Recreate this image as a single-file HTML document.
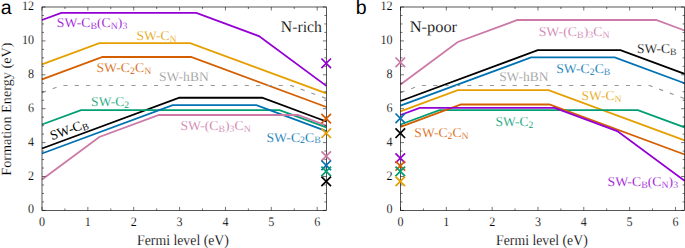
<!DOCTYPE html><html><head><meta charset="utf-8"><style>html,body{margin:0;padding:0;background:#fff;}svg{display:block;}text{font-family:"Liberation Serif",serif;text-rendering:geometricPrecision;stroke:#fff;stroke-width:0.15px;}.tk{font-size:13px;fill:#000;}.lb{font-size:13.5px;}.sb{font-size:9.7px;}.pl{font-family:"Liberation Sans",sans-serif;font-size:19.5px;fill:#000;stroke:none;}</style></head><body>
<svg id="s" width="685" height="248" viewBox="0 0 685 248">
<g id="pa">
<polyline points="42.00,148.52 179.36,97.75 262.14,97.75 326.35,121.48" fill="none" stroke="#000000" stroke-width="1.80" stroke-linejoin="miter"/>
<polyline points="42.00,64.29 99.33,43.10 190.14,43.10 326.35,93.44" fill="none" stroke="#e69f00" stroke-width="1.80" stroke-linejoin="miter"/>
<polyline points="42.00,124.51 80.98,110.10 279.57,110.10 326.35,127.39" fill="none" stroke="#009e73" stroke-width="1.80" stroke-linejoin="miter"/>
<polyline points="42.00,153.51 172.71,105.20 256.41,105.20 326.35,131.05" fill="none" stroke="#0072b2" stroke-width="1.80" stroke-linejoin="miter"/>
<polyline points="42.00,79.37 102.54,57.00 191.05,57.00 326.35,107.00" fill="none" stroke="#d55e00" stroke-width="1.80" stroke-linejoin="miter"/>
<polyline points="42.00,20.02 61.26,12.90 196.33,12.90 258.93,36.04 326.35,85.87" fill="none" stroke="#9400d3" stroke-width="1.80" stroke-linejoin="miter"/>
<polyline points="42.00,179.41 99.33,137.03 158.95,115.00 297.92,115.00 326.35,125.51" fill="none" stroke="#cc79a7" stroke-width="1.80" stroke-linejoin="miter"/>
<polyline points="42.00,92.62 61.26,85.50 291.04,85.50 326.35,98.55" fill="none" stroke="#999999" stroke-width="1.20" stroke-linejoin="miter" stroke-dasharray="4.2 7.13"/>
<path d="M42.00 210.40V206.90M42.00 7.00V10.50M64.93 210.40V208.40M64.93 7.00V9.00M87.86 210.40V206.90M87.86 7.00V10.50M110.79 210.40V208.40M110.79 7.00V9.00M133.73 210.40V206.90M133.73 7.00V10.50M156.66 210.40V208.40M156.66 7.00V9.00M179.59 210.40V206.90M179.59 7.00V10.50M202.52 210.40V208.40M202.52 7.00V9.00M225.45 210.40V206.90M225.45 7.00V10.50M248.38 210.40V208.40M248.38 7.00V9.00M271.31 210.40V206.90M271.31 7.00V10.50M294.25 210.40V208.40M294.25 7.00V9.00M317.18 210.40V206.90M317.18 7.00V10.50M42.00 210.40H45.50M326.35 210.40H322.85M42.00 201.93H44.00M326.35 201.93H324.35M42.00 193.45H44.00M326.35 193.45H324.35M42.00 184.97H44.00M326.35 184.97H324.35M42.00 176.50H45.50M326.35 176.50H322.85M42.00 168.03H44.00M326.35 168.03H324.35M42.00 159.55H44.00M326.35 159.55H324.35M42.00 151.08H44.00M326.35 151.08H324.35M42.00 142.60H45.50M326.35 142.60H322.85M42.00 134.12H44.00M326.35 134.12H324.35M42.00 125.65H44.00M326.35 125.65H324.35M42.00 117.17H44.00M326.35 117.17H324.35M42.00 108.70H45.50M326.35 108.70H322.85M42.00 100.22H44.00M326.35 100.22H324.35M42.00 91.75H44.00M326.35 91.75H324.35M42.00 83.28H44.00M326.35 83.28H324.35M42.00 74.80H45.50M326.35 74.80H322.85M42.00 66.32H44.00M326.35 66.32H324.35M42.00 57.85H44.00M326.35 57.85H324.35M42.00 49.38H44.00M326.35 49.38H324.35M42.00 40.90H45.50M326.35 40.90H322.85M42.00 32.42H44.00M326.35 32.42H324.35M42.00 23.95H44.00M326.35 23.95H324.35M42.00 15.48H44.00M326.35 15.48H324.35M42.00 7.00H45.50M326.35 7.00H322.85" stroke="#000" stroke-width="0.55" fill="none"/>
<rect x="42.00" y="7.00" width="284.35" height="203.40" fill="none" stroke="#000" stroke-width="0.66"/>
<text transform="translate(42.00 226.00) scale(0.930 1)" text-anchor="middle" class="tk">0</text>
<text transform="translate(87.86 226.00) scale(0.930 1)" text-anchor="middle" class="tk">1</text>
<text transform="translate(133.73 226.00) scale(0.930 1)" text-anchor="middle" class="tk">2</text>
<text transform="translate(179.59 226.00) scale(0.930 1)" text-anchor="middle" class="tk">3</text>
<text transform="translate(225.45 226.00) scale(0.930 1)" text-anchor="middle" class="tk">4</text>
<text transform="translate(271.31 226.00) scale(0.930 1)" text-anchor="middle" class="tk">5</text>
<text transform="translate(317.18 226.00) scale(0.930 1)" text-anchor="middle" class="tk">6</text>
<text transform="translate(34.00 213.40) scale(0.930 1)" text-anchor="end" class="tk">0</text>
<text transform="translate(34.00 179.50) scale(0.930 1)" text-anchor="end" class="tk">2</text>
<text transform="translate(34.00 145.60) scale(0.930 1)" text-anchor="end" class="tk">4</text>
<text transform="translate(34.00 111.70) scale(0.930 1)" text-anchor="end" class="tk">6</text>
<text transform="translate(34.00 77.80) scale(0.930 1)" text-anchor="end" class="tk">8</text>
<text transform="translate(34.00 43.90) scale(0.930 1)" text-anchor="end" class="tk">10</text>
<text transform="translate(34.00 10.00) scale(0.930 1)" text-anchor="end" class="tk">12</text>
<path d="M321.40 58.50L331.00 68.10M321.40 68.10L331.00 58.50" stroke="#9400d3" stroke-width="1.70" fill="none"/>
<path d="M321.40 113.80L331.00 123.40M321.40 123.40L331.00 113.80" stroke="#d55e00" stroke-width="1.70" fill="none"/>
<path d="M321.40 128.40L331.00 138.00M321.40 138.00L331.00 128.40" stroke="#e69f00" stroke-width="1.70" fill="none"/>
<path d="M321.40 151.30L331.00 160.90M321.40 160.90L331.00 151.30" stroke="#cc79a7" stroke-width="1.70" fill="none"/>
<path d="M321.40 160.50L331.00 170.10M321.40 170.10L331.00 160.50" stroke="#0072b2" stroke-width="1.70" fill="none"/>
<path d="M321.40 166.60L331.00 176.20M321.40 176.20L331.00 166.60" stroke="#009e73" stroke-width="1.70" fill="none"/>
<path d="M321.40 176.60L331.00 186.20M321.40 186.20L331.00 176.60" stroke="#000000" stroke-width="1.70" fill="none"/>
</g>
<g id="pb">
<polyline points="400.50,100.97 537.74,50.20 620.45,50.20 684.60,73.93" fill="none" stroke="#000000" stroke-width="1.80" stroke-linejoin="miter"/>
<polyline points="400.50,111.29 457.78,90.10 548.51,90.10 684.60,140.44" fill="none" stroke="#e69f00" stroke-width="1.80" stroke-linejoin="miter"/>
<polyline points="400.50,124.51 439.45,110.10 637.86,110.10 684.60,127.39" fill="none" stroke="#009e73" stroke-width="1.80" stroke-linejoin="miter"/>
<polyline points="400.50,105.71 531.09,57.40 614.72,57.40 684.60,83.25" fill="none" stroke="#0072b2" stroke-width="1.80" stroke-linejoin="miter"/>
<polyline points="400.50,126.87 460.99,104.50 549.42,104.50 684.60,154.50" fill="none" stroke="#d55e00" stroke-width="1.80" stroke-linejoin="miter"/>
<polyline points="400.50,115.02 419.75,107.90 554.69,107.90 617.24,131.04 684.60,180.87" fill="none" stroke="#9400d3" stroke-width="1.80" stroke-linejoin="miter"/>
<polyline points="400.50,84.41 457.78,42.03 517.35,20.00 656.19,20.00 684.60,30.51" fill="none" stroke="#cc79a7" stroke-width="1.80" stroke-linejoin="miter"/>
<polyline points="400.50,92.62 419.75,85.50 649.32,85.50 684.60,98.55" fill="none" stroke="#999999" stroke-width="1.20" stroke-linejoin="miter" stroke-dasharray="4.2 7.13"/>
<path d="M400.50 210.40V206.90M400.50 7.00V10.50M423.41 210.40V208.40M423.41 7.00V9.00M446.32 210.40V206.90M446.32 7.00V10.50M469.23 210.40V208.40M469.23 7.00V9.00M492.15 210.40V206.90M492.15 7.00V10.50M515.06 210.40V208.40M515.06 7.00V9.00M537.97 210.40V206.90M537.97 7.00V10.50M560.88 210.40V208.40M560.88 7.00V9.00M583.79 210.40V206.90M583.79 7.00V10.50M606.70 210.40V208.40M606.70 7.00V9.00M629.61 210.40V206.90M629.61 7.00V10.50M652.52 210.40V208.40M652.52 7.00V9.00M675.44 210.40V206.90M675.44 7.00V10.50M400.50 210.40H404.00M684.60 210.40H681.10M400.50 201.93H402.50M684.60 201.93H682.60M400.50 193.45H402.50M684.60 193.45H682.60M400.50 184.97H402.50M684.60 184.97H682.60M400.50 176.50H404.00M684.60 176.50H681.10M400.50 168.03H402.50M684.60 168.03H682.60M400.50 159.55H402.50M684.60 159.55H682.60M400.50 151.08H402.50M684.60 151.08H682.60M400.50 142.60H404.00M684.60 142.60H681.10M400.50 134.12H402.50M684.60 134.12H682.60M400.50 125.65H402.50M684.60 125.65H682.60M400.50 117.17H402.50M684.60 117.17H682.60M400.50 108.70H404.00M684.60 108.70H681.10M400.50 100.22H402.50M684.60 100.22H682.60M400.50 91.75H402.50M684.60 91.75H682.60M400.50 83.28H402.50M684.60 83.28H682.60M400.50 74.80H404.00M684.60 74.80H681.10M400.50 66.32H402.50M684.60 66.32H682.60M400.50 57.85H402.50M684.60 57.85H682.60M400.50 49.38H402.50M684.60 49.38H682.60M400.50 40.90H404.00M684.60 40.90H681.10M400.50 32.42H402.50M684.60 32.42H682.60M400.50 23.95H402.50M684.60 23.95H682.60M400.50 15.48H402.50M684.60 15.48H682.60M400.50 7.00H404.00M684.60 7.00H681.10" stroke="#000" stroke-width="0.55" fill="none"/>
<rect x="400.50" y="7.00" width="284.10" height="203.40" fill="none" stroke="#000" stroke-width="0.66"/>
<text transform="translate(400.50 226.00) scale(0.930 1)" text-anchor="middle" class="tk">0</text>
<text transform="translate(446.32 226.00) scale(0.930 1)" text-anchor="middle" class="tk">1</text>
<text transform="translate(492.15 226.00) scale(0.930 1)" text-anchor="middle" class="tk">2</text>
<text transform="translate(537.97 226.00) scale(0.930 1)" text-anchor="middle" class="tk">3</text>
<text transform="translate(583.79 226.00) scale(0.930 1)" text-anchor="middle" class="tk">4</text>
<text transform="translate(629.61 226.00) scale(0.930 1)" text-anchor="middle" class="tk">5</text>
<text transform="translate(675.44 226.00) scale(0.930 1)" text-anchor="middle" class="tk">6</text>
<text transform="translate(392.50 213.40) scale(0.930 1)" text-anchor="end" class="tk">0</text>
<text transform="translate(392.50 179.50) scale(0.930 1)" text-anchor="end" class="tk">2</text>
<text transform="translate(392.50 145.60) scale(0.930 1)" text-anchor="end" class="tk">4</text>
<text transform="translate(392.50 111.70) scale(0.930 1)" text-anchor="end" class="tk">6</text>
<text transform="translate(392.50 77.80) scale(0.930 1)" text-anchor="end" class="tk">8</text>
<text transform="translate(392.50 43.90) scale(0.930 1)" text-anchor="end" class="tk">10</text>
<text transform="translate(392.50 10.00) scale(0.930 1)" text-anchor="end" class="tk">12</text>
<path d="M395.50 57.50L405.10 67.10M395.50 67.10L405.10 57.50" stroke="#cc79a7" stroke-width="1.70" fill="none"/>
<path d="M395.50 113.50L405.10 123.10M395.50 123.10L405.10 113.50" stroke="#0072b2" stroke-width="1.70" fill="none"/>
<path d="M395.50 128.40L405.10 138.00M395.50 138.00L405.10 128.40" stroke="#000000" stroke-width="1.70" fill="none"/>
<path d="M395.50 153.40L405.10 163.00M395.50 163.00L405.10 153.40" stroke="#9400d3" stroke-width="1.70" fill="none"/>
<path d="M395.50 161.10L405.10 170.70M395.50 170.70L405.10 161.10" stroke="#d55e00" stroke-width="1.70" fill="none"/>
<path d="M395.50 166.60L405.10 176.20M395.50 176.20L405.10 166.60" stroke="#009e73" stroke-width="1.70" fill="none"/>
<path d="M395.50 176.60L405.10 186.20M395.50 186.20L405.10 176.60" stroke="#e69f00" stroke-width="1.70" fill="none"/>
</g>
<text id="a1" class="lb" fill="#9400d3" transform="translate(56.80 27.10) scale(1.0166 1)" x="0.07" y="0"><tspan>SW-</tspan><tspan>C</tspan><tspan class="sb" dy="1.90">B</tspan><tspan dy="-1.90">(C</tspan><tspan class="sb" dy="1.90">N</tspan><tspan dy="-1.90">)</tspan><tspan class="sb" dy="1.90">3</tspan></text>
<text id="a2" class="lb" fill="#e69f00" transform="translate(136.80 40.10) scale(1.0024 1)" x="-0.30" y="0"><tspan>SW-</tspan><tspan>C</tspan><tspan class="sb" dy="1.90">N</tspan></text>
<text id="a3" class="lb" fill="#d55e00" transform="translate(97.10 72.40) scale(1.0175 1)" x="-0.66" y="0"><tspan>SW-</tspan><tspan>C</tspan><tspan class="sb" dy="1.90">2</tspan><tspan dy="-1.90">C</tspan><tspan class="sb" dy="1.90">N</tspan></text>
<text id="a4" class="lb" fill="#999999" transform="translate(160.10 81.10) scale(1.0019 1)" x="-1.04" y="0"><tspan>SW-hBN</tspan></text>
<text id="a5" class="lb" fill="#009e73" transform="translate(92.10 105.70) scale(1.0023 1)" x="-0.99" y="0"><tspan>SW-</tspan><tspan>C</tspan><tspan class="sb" dy="1.90">2</tspan></text>
<text id="a7" class="lb" fill="#cc79a7" transform="translate(180.60 129.60) scale(1.0146 1)" x="-0.20" y="0"><tspan>SW-</tspan><tspan>(C</tspan><tspan class="sb" dy="1.90">B</tspan><tspan dy="-1.90">)</tspan><tspan class="sb" dy="1.90">3</tspan><tspan dy="-1.90">C</tspan><tspan class="sb" dy="1.90">N</tspan></text>
<text id="a8" class="lb" fill="#0072b2" transform="translate(267.10 141.50) scale(1.0185 1)" x="-0.63" y="0"><tspan>SW-</tspan><tspan>C</tspan><tspan class="sb" dy="1.90">2</tspan><tspan dy="-1.90">C</tspan><tspan class="sb" dy="1.90">B</tspan></text>
<text id="b2" class="lb" fill="#cc79a7" transform="translate(539.10 36.20) scale(1.0226 1)" x="-0.43" y="0"><tspan>SW-</tspan><tspan>(C</tspan><tspan class="sb" dy="1.90">B</tspan><tspan dy="-1.90">)</tspan><tspan class="sb" dy="1.90">3</tspan><tspan dy="-1.90">C</tspan><tspan class="sb" dy="1.90">N</tspan></text>
<text id="b3" class="lb" fill="#000000" transform="translate(637.50 53.00) scale(0.9999 1)" x="-0.45" y="0"><tspan>SW-</tspan><tspan>C</tspan><tspan class="sb" dy="1.90">B</tspan></text>
<text id="b4" class="lb" fill="#0072b2" transform="translate(557.00 73.20) scale(1.0156 1)" x="-0.81" y="0"><tspan>SW-</tspan><tspan>C</tspan><tspan class="sb" dy="1.90">2</tspan><tspan dy="-1.90">C</tspan><tspan class="sb" dy="1.90">B</tspan></text>
<text id="b5" class="lb" fill="#999999" transform="translate(500.20 81.20) scale(0.9967 1)" x="-1.07" y="0"><tspan>SW-hBN</tspan></text>
<text id="b6" class="lb" fill="#e69f00" transform="translate(582.50 100.00) scale(0.9960 1)" x="-0.92" y="0"><tspan>SW-</tspan><tspan>C</tspan><tspan class="sb" dy="1.90">N</tspan></text>
<text id="b7" class="lb" fill="#009e73" transform="translate(496.10 125.80) scale(0.9982 1)" x="-0.67" y="0"><tspan>SW-</tspan><tspan>C</tspan><tspan class="sb" dy="1.90">2</tspan></text>
<text id="b8" class="lb" fill="#d55e00" transform="translate(414.70 136.60) scale(1.0059 1)" x="-0.36" y="0"><tspan>SW-</tspan><tspan>C</tspan><tspan class="sb" dy="1.90">2</tspan><tspan dy="-1.90">C</tspan><tspan class="sb" dy="1.90">N</tspan></text>
<text id="b9" class="lb" fill="#9400d3" transform="translate(608.10 185.90) scale(1.0182 1)" x="-0.58" y="0"><tspan>SW-</tspan><tspan>C</tspan><tspan class="sb" dy="1.90">B</tspan><tspan dy="-1.90">(C</tspan><tspan class="sb" dy="1.90">N</tspan><tspan dy="-1.90">)</tspan><tspan class="sb" dy="1.90">3</tspan></text>
<text id="a6" class="lb" fill="#000" style="stroke:none" transform="translate(52.0 140.2) rotate(-19.8) scale(0.9900 1)" x="0.00" y="0"><tspan>SW-</tspan><tspan>C</tspan><tspan class="sb" dy="1.90">B</tspan></text>
<text id="nr" style="font-size:16px" fill="#000" transform="translate(280.8 31.8) scale(0.9829 1)" x="0.05">N-rich</text>
<text id="np" style="font-size:16px" fill="#000" transform="translate(410.6 32.3) scale(1.0261 1)" x="-0.94">N-poor</text>
<text id="xa" style="font-size:15px" fill="#000" text-anchor="middle" transform="translate(184.20 245.1) scale(0.9192 1)" x="-1.33">Fermi level (eV)</text>
<text id="xb" style="font-size:15px" fill="#000" text-anchor="middle" transform="translate(542.40 245.1) scale(0.9162 1)" x="-0.54">Fermi level (eV)</text>
<text id="ya" style="font-size:14px" fill="#000" text-anchor="middle" transform="translate(10.9 109.1) rotate(-90) scale(1.0162 1)">Formation Energy (eV)</text>
<text class="pl" x="0.7" y="13.5">a</text>
<text class="pl" x="355.7" y="13.5">b</text>
</svg></body></html>
